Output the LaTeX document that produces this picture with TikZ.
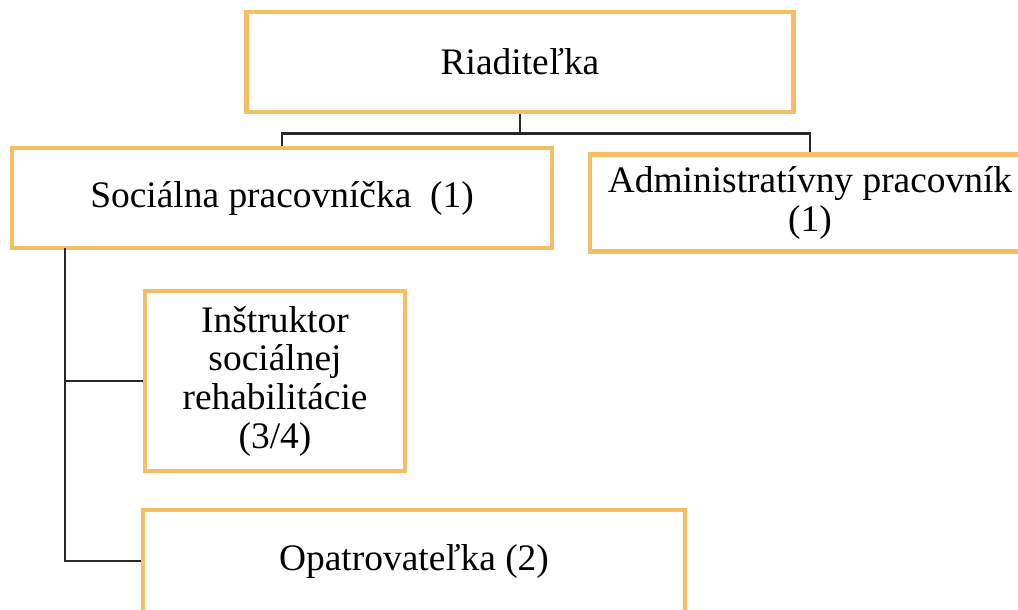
\documentclass[tikz,border=0pt]{standalone}
\usepackage{fontspec}
\setmainfont{Liberation Serif}
\usepackage{tikz}
\definecolor{boxOrange}{RGB}{246, 190, 100}
\definecolor{lineGray}{RGB}{40, 40, 40}

\begin{document}
\begin{tikzpicture}[x=0.02cm, y=-0.02cm,
    unit/.style={draw=boxOrange, line width=2.6pt, fill=white, inner sep=0pt,
      align=center, font=\fontsize{21.3}{22}\selectfont},
    link/.style={draw=lineGray, line width=1.4pt}]
        \useasboundingbox (0,0) rectangle (1018,609);
        \clip (0,0) rectangle (1018,609);
        % boxes
        \node[unit, minimum width=10.94cm, minimum height=2cm] (riad) at (520,62) {Riaditeľka};
        \node[unit, minimum width=10.8cm, minimum height=2cm] (soc) at (282,198) {Sociálna pracovníčka\ \ (1)};
        \node[unit, minimum width=8.8cm, minimum height=1.94cm] (adm) at (810,203) {Administratívny pracovník\\(1)};
        \node[unit, minimum width=5.2cm, minimum height=3.6cm] (instr) at (275,381) {Inštruktor\\sociálnej\\rehabilitácie\\(3/4)};
        \node[unit, minimum width=10.84cm, minimum height=2.04cm] (opat) at (414,561) {Opatrovateľka (2)};
        % connectors
        \draw[link] (riad.south) -- ++(0,19) coordinate (fork);
        \draw[link] (fork) -| (soc.north);
        \draw[link] (fork) -| (adm.north);
        \coordinate (spine) at (65,248);
        \draw[link] (spine) |- (instr.west);
        \draw[link] (spine) |- (opat.west);
      \end{tikzpicture}
\end{document}
